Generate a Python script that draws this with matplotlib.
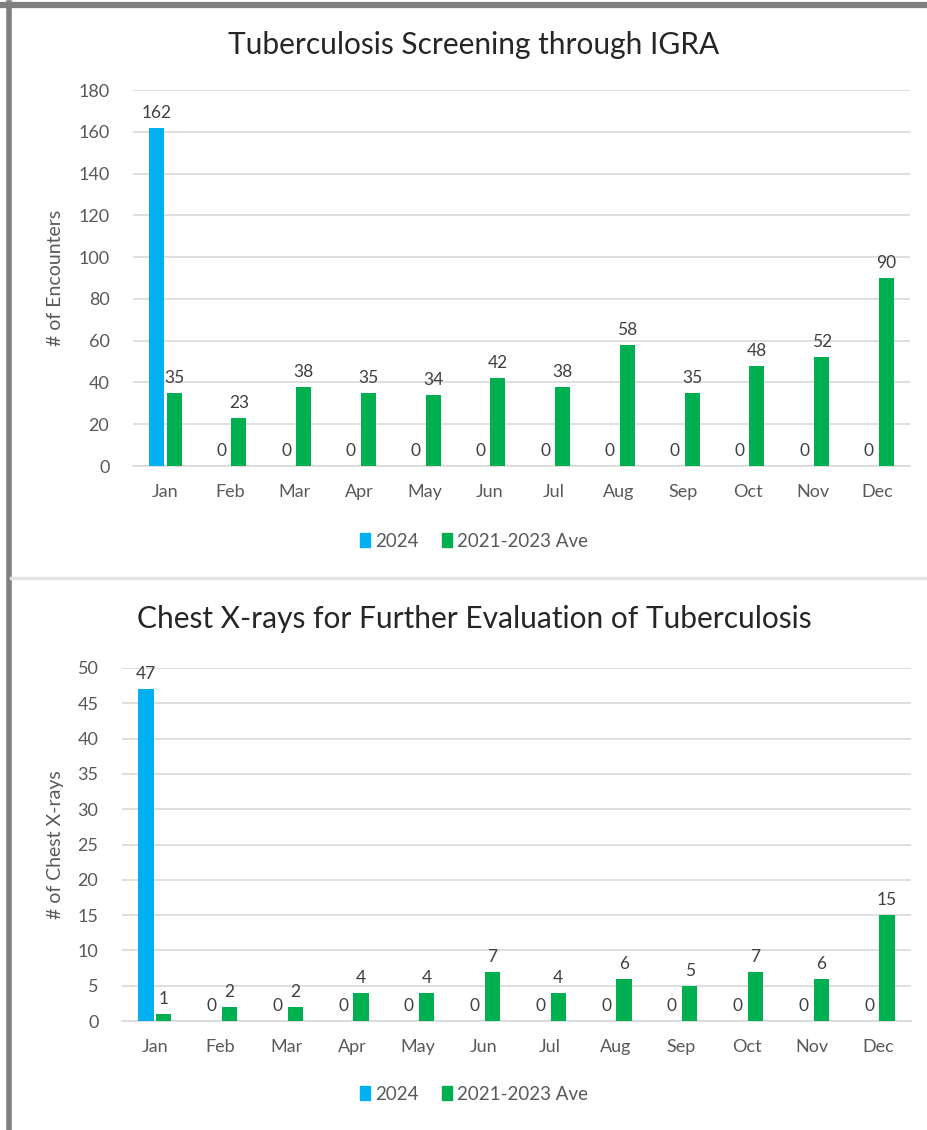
import numpy as np
import matplotlib.pyplot as plt
from matplotlib.patches import Rectangle
from matplotlib.lines import Line2D

plt.rcParams['font.family'] = ['Lato', 'DejaVu Sans']

months = ['Jan', 'Feb', 'Mar', 'Apr', 'May', 'Jun', 'Jul', 'Aug', 'Sep', 'Oct', 'Nov', 'Dec']
series_names = ['2024', '2021-2023 Ave']

igra_2024 = [162, 0, 0, 0, 0, 0, 0, 0, 0, 0, 0, 0]
igra_ave = [35, 23, 38, 35, 34, 42, 38, 58, 35, 48, 52, 90]

xray_2024 = [47, 0, 0, 0, 0, 0, 0, 0, 0, 0, 0, 0]
xray_ave = [1, 2, 2, 4, 4, 7, 4, 6, 5, 7, 6, 15]

BLUE = '#00B0F0'
GREEN = '#00B050'
GRID = '#d9d9d9'
TXT = '#595959'
LBL = '#404040'

W, H = 927, 1130
fig = plt.figure(figsize=(W / 100, H / 100), dpi=100)
fig.patch.set_facecolor('white')


def px_axes(left, right, top, bottom):
    return fig.add_axes([left / W, 1 - bottom / H, (right - left) / W, (bottom - top) / H])


def draw_chart(ax, left, right, cur, ave, ymax, step, ylabel, title, title_y, legend_y):
    x = np.arange(len(months))
    w = 0.235
    b1 = ax.bar(x - 0.135, cur, w, color=BLUE, zorder=3)
    b2 = ax.bar(x + 0.135, ave, w, color=GREEN, zorder=3)
    for bars in (b1, b2):
        ax.bar_label(bars, padding=5, fontsize=12.5, color=LBL)

    ax.set_xlim(-0.5, len(months) - 0.5)
    ax.set_ylim(0, ymax)
    ax.set_yticks(np.arange(0, ymax + 1, step))
    ax.set_xticks(x)
    ax.set_xticklabels(months)
    ax.tick_params(axis='y', length=0, pad=17, labelsize=13, labelcolor=TXT)
    ax.tick_params(axis='x', length=0, pad=13, labelsize=13, labelcolor=TXT)
    ax.grid(axis='y', color=GRID, linewidth=1.2, zorder=0)
    for s in ('top', 'right', 'left'):
        ax.spines[s].set_visible(False)
    ax.spines['bottom'].set_color(GRID)
    ax.spines['bottom'].set_linewidth(1.2)
    ax.set_ylabel(ylabel, fontsize=14, color=TXT)
    ax.yaxis.set_label_coords((64 - left) / (right - left), 0.5)

    fig.text(474 / W, 1 - title_y / H, title, ha='center', va='center',
             fontsize=21.5, color='#262626')
    handles = [Rectangle((0, 0), 1, 1, color=BLUE), Rectangle((0, 0), 1, 1, color=GREEN)]
    fig.legend(handles, series_names, loc='center', bbox_to_anchor=(474 / W, 1 - legend_y / H),
               ncol=2, frameon=False, fontsize=13.5, labelcolor=TXT,
               handlelength=0.55, handleheight=0.7, handletextpad=0.3, columnspacing=1.2)


ax1 = px_axes(133, 910, 90, 466)
draw_chart(ax1, 133, 910, igra_2024, igra_ave, 180, 20, '# of Encounters',
           'Tuberculosis Screening through IGRA', 45, 541)

ax2 = px_axes(122, 911, 668, 1021)
draw_chart(ax2, 122, 911, xray_2024, xray_ave, 50, 5, '# of Chest X-rays',
           'Chest X-rays for Further Evaluation of Tuberculosis', 619, 1094)

# outer frame and divider between the two charts
fig.add_artist(Line2D([0, 1], [1 - 5 / H, 1 - 5 / H], color='#7f7f7f', linewidth=4.5))
fig.add_artist(Line2D([8.5 / W, 8.5 / W], [0, 1 - 3 / H], color='#7f7f7f', linewidth=4))
fig.add_artist(Line2D([11 / W, 1], [1 - 578 / H, 1 - 578 / H], color='#e3e3e3', linewidth=2.5))

fig.savefig('out.png', dpi=100)
